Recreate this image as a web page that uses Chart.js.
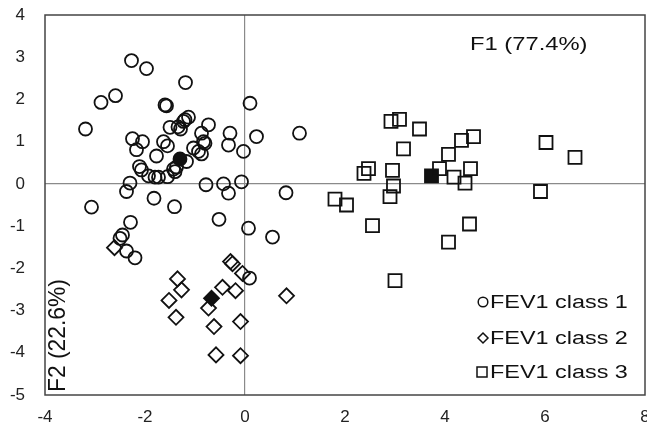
<!DOCTYPE html>
<html lang="en">
<head>
    <meta charset="UTF-8">
    <title>FEV1 classes - PCA scores</title>
    <script src="https://cdn.jsdelivr.net/npm/chart.js@4/dist/chart.umd.min.js"></script>
    <style>
        body { margin: 0; background: #fff; }
        #wrap { width: 647px; height: 430px; }
    </style>
</head>
<body>
    <div id="wrap"><canvas id="myChart" width="647" height="430"></canvas></div>
    <script>
        // tick labels
        const xTicks = [-4, -2, 0, 2, 4, 6, 8];
        const yTicks = [-5, -4, -3, -2, -1, 0, 1, 2, 3, 4];

        // series names
        const seriesNames = ['FEV1 class 1', 'FEV1 class 2', 'FEV1 class 3'];

        // FEV1 class 1 (circles) [F1, F2]
        const class1 = [
            [-2.27, 2.92], [-1.97, 2.73], [-1.19, 2.40], [-2.59, 2.09], [-2.88, 1.93],
            [-1.60, 1.87], [-1.57, 1.85], [-3.19, 1.30], [-1.13, 1.58], [-1.20, 1.52],
            [-1.23, 1.48], [-1.50, 1.34], [-1.34, 1.35], [-1.29, 1.30], [-2.25, 1.07],
            [-2.05, 1.00], [-2.17, 0.81], [-1.63, 1.00], [-1.55, 0.90], [-1.77, 0.66],
            [-2.11, 0.41], [-2.07, 0.33], [-1.93, 0.19], [-1.80, 0.16], [-1.55, 0.17],
            [-1.40, 0.29], [-2.30, 0.02], [0.10, 1.91], [-0.73, 1.40], [-0.30, 1.20],
            [0.23, 1.12], [1.09, 1.20], [-0.87, 1.20], [-0.83, 1.00], [-0.80, 0.96],
            [-0.33, 0.92], [-1.03, 0.85], [-0.93, 0.77], [-0.87, 0.71], [-0.03, 0.77],
            [-1.17, 0.53], [-1.43, 0.35], [-1.37, 0.40], [-1.73, 0.16], [-0.78, -0.02],
            [-0.43, 0.00], [-0.33, -0.22], [-0.07, 0.05], [0.82, -0.21], [-1.82, -0.34],
            [-1.41, -0.54], [-0.52, -0.84], [0.07, -1.05], [-3.07, -0.55], [-2.37, -0.18],
            [0.55, -1.26], [-2.29, -0.91], [-2.45, -1.21], [-2.50, -1.29], [-2.37, -1.59],
            [-2.20, -1.75], [0.09, -2.23]
        ];

        // FEV1 class 2 (diamonds)
        const class2 = [
            [-2.61, -1.51], [-0.29, -1.84], [-0.25, -1.89], [-0.05, -2.12], [-1.35, -2.25],
            [-1.27, -2.51], [-0.45, -2.45], [-0.19, -2.53], [-1.52, -2.76], [-0.73, -2.94],
            [-1.38, -3.16], [-0.62, -3.38], [-0.09, -3.26], [-0.58, -4.05], [-0.09, -4.07],
            [0.83, -2.65]
        ];

        // FEV1 class 3 (squares)
        const class3 = [
            [2.92, 1.48], [3.09, 1.53], [3.49, 1.30], [3.17, 0.83], [4.57, 1.12],
            [4.33, 1.03], [4.07, 0.70], [2.47, 0.36], [2.38, 0.25], [2.95, 0.32],
            [3.89, 0.36], [4.18, 0.16], [4.51, 0.36], [4.40, 0.02], [2.97, -0.05],
            [2.90, -0.30], [1.80, -0.36], [2.03, -0.50], [2.55, -0.99], [4.49, -0.95],
            [4.07, -1.38], [3.00, -2.29], [6.02, 0.98], [6.60, 0.63], [5.91, -0.18]
        ];

        // class centroids (filled markers)
        const centroids = [[-1.30, 0.59], [-0.67, -2.71], [3.73, 0.19]];

        const axisTitleX = 'F1 (77.4%)';
        const axisTitleY = 'F2 (22.6%)';

        const styles = ['circle', 'rectRot', 'rect'];
        const radii = [6.5, 7.5, 9.2];
        const toXY = arr => arr.map(p => ({ x: p[0], y: p[1] }));
        const ink = '#111';
        const fontFamily = '"Liberation Sans", Arial, sans-serif';

        const datasets = [class1, class2, class3].map((pts, i) => ({
            label: seriesNames[i],
            data: toXY(pts),
            pointStyle: styles[i],
            pointRadius: radii[i],
            pointBorderColor: ink,
            pointBackgroundColor: 'rgba(0,0,0,0)',
            pointBorderWidth: 1.8,
            showLine: false
        }));
        centroids.forEach((p, i) => {
            datasets.push({
                label: 'centroid ' + (i + 1),
                data: toXY([p]),
                pointStyle: styles[i],
                pointRadius: radii[i],
                pointBorderColor: ink,
                pointBackgroundColor: ink,
                pointBorderWidth: 1.8,
                showLine: false
            });
        });

        // frame, in-plot legend and the two axis captions
        const decor = {
            id: 'decor',
            afterDatasetsDraw(chart) {
                const ctx = chart.ctx;
                const a = chart.chartArea;
                ctx.save();
                ctx.strokeStyle = '#444';
                ctx.lineWidth = 1.5;
                ctx.strokeRect(a.left, a.top, a.right - a.left, a.bottom - a.top);

                ctx.fillStyle = '#111';
                ctx.textBaseline = 'middle';
                ctx.font = '19px ' + fontFamily;

                // F1 caption
                ctx.save();
                ctx.translate(470, 45);
                ctx.scale(1.25, 1);
                ctx.fillText(axisTitleX, 0, 0);
                ctx.restore();

                // F2 caption
                ctx.save();
                ctx.translate(58, 392);
                ctx.rotate(-Math.PI / 2);
                ctx.scale(1.2, 1.25);
                ctx.fillText(axisTitleY, 0, 0);
                ctx.restore();

                // legend
                const rowsY = [302, 338, 372];
                ctx.font = '18px ' + fontFamily;
                seriesNames.forEach((name, i) => {
                    const y = rowsY[i];
                    ctx.strokeStyle = '#111';
                    ctx.lineWidth = 1.5;
                    ctx.beginPath();
                    if (i === 0) {
                        ctx.arc(483, y, 4.8, 0, Math.PI * 2);
                    } else if (i === 1) {
                        ctx.moveTo(483, y - 5); ctx.lineTo(488, y);
                        ctx.lineTo(483, y + 5); ctx.lineTo(478, y); ctx.closePath();
                    } else {
                        ctx.rect(477, y - 5, 10, 10);
                    }
                    ctx.stroke();
                    ctx.save();
                    ctx.translate(490, y);
                    ctx.scale(1.3, 1);
                    ctx.fillText(name, 0, 1);
                    ctx.restore();
                });
                ctx.restore();
            }
        };

        const zeroLine = c => (c.tick && c.tick.value === 0) ? '#8a8a8a' : 'rgba(0,0,0,0)';

        new Chart(document.getElementById('myChart').getContext('2d'), {
            type: 'scatter',
            data: { datasets },
            options: {
                animation: false,
                responsive: false,
                layout: { autoPadding: false, padding: { top: 15, right: 2, left: 0, bottom: 0 } },
                plugins: {
                    legend: { display: false },
                    tooltip: { enabled: false }
                },
                scales: {
                    x: {
                        type: 'linear',
                        min: xTicks[0],
                        max: xTicks[xTicks.length - 1],
                        afterBuildTicks: s => { s.ticks = xTicks.map(v => ({ value: v })); },
                        afterFit: s => { s.height = 35; s.paddingLeft = 0; s.paddingRight = 0; },
                        grid: { color: zeroLine, lineWidth: 1.2, drawTicks: false },
                        border: { display: false },
                        ticks: { color: '#222', padding: 12, maxRotation: 0,
                                 font: { family: fontFamily, size: 17 } }
                    },
                    y: {
                        type: 'linear',
                        min: yTicks[0],
                        max: yTicks[yTicks.length - 1],
                        afterBuildTicks: s => { s.ticks = yTicks.map(v => ({ value: v })); },
                        afterFit: s => { s.width = 45; s.paddingTop = 0; s.paddingBottom = 0; },
                        grid: { color: zeroLine, lineWidth: 1.2, drawTicks: false },
                        border: { display: false },
                        ticks: { color: '#222', padding: 20,
                                 font: { family: fontFamily, size: 17 } }
                    }
                }
            },
            plugins: [decor]
        });
    </script>
</body>
</html>
